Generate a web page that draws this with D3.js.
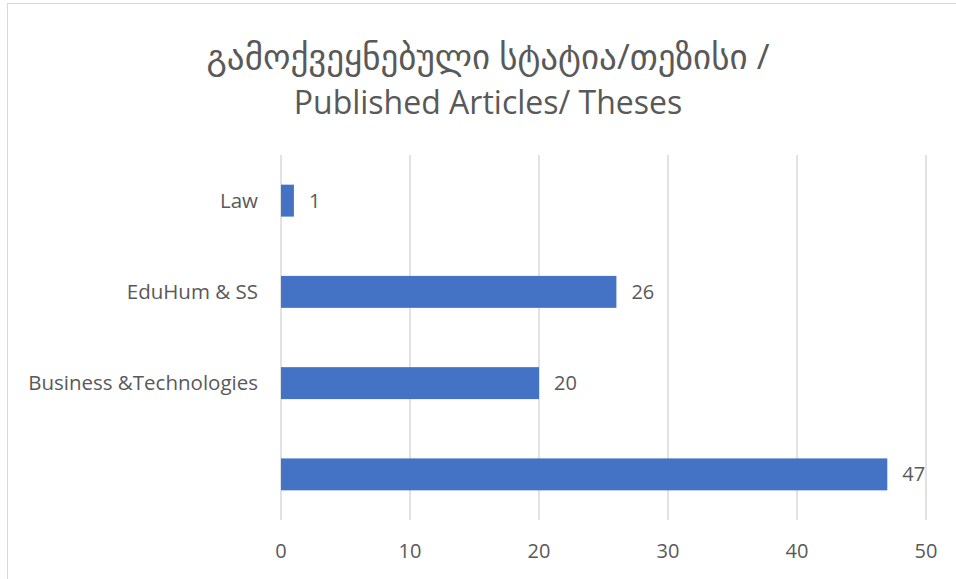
<!DOCTYPE html>
<html>
<head>
<meta charset="utf-8">
<script src="https://cdn.jsdelivr.net/npm/d3@7"></script>
<style>
  body { margin: 0; background: #fff; }
  text { font-family: "Open Sans", "DejaVu Sans", sans-serif; fill: #595959; }
</style>
</head>
<body>
<svg id="svg" width="956" height="579"></svg>
<script>
const categories = ['Law', 'EduHum & SS', 'Business &Technologies', '']
const values = [1, 26, 20, 47]
const ticks = [0, 10, 20, 30, 40, 50]
const titleLines = ['გამოქვეყნებული სტატია/თეზისი /', 'Published Articles/ Theses']

let svg = d3.select('#svg')

// chart area frame
svg.append('rect')
  .attr('x', 7.5).attr('y', 3.5)
  .attr('width', 970).attr('height', 600)
  .attr('fill', '#fff')
  .attr('stroke', '#d9d9d9')

let x = d3.scaleLinear().domain([0, 50]).range([281, 926])
let y = d3.scaleBand().domain(categories.map((c, i) => i)).range([155, 520]).paddingInner(0.65).paddingOuter(0.325)

// gridlines
svg.selectAll('line.grid')
  .data(ticks)
  .enter()
  .append('line')
  .attr('class', 'grid')
  .attr('x1', d => x(d)).attr('x2', d => x(d))
  .attr('y1', 155).attr('y2', 520)
  .attr('stroke', '#d9d9d9')
  .attr('stroke-width', 1.5)

// bars
svg.selectAll('rect.bar')
  .data(values)
  .enter()
  .append('rect')
  .attr('class', 'bar')
  .attr('x', x(0))
  .attr('y', (d, i) => y(i))
  .attr('width', d => x(d) - x(0))
  .attr('height', y.bandwidth())
  .attr('fill', '#4472c4')

// value labels
svg.selectAll('text.val')
  .data(values)
  .enter()
  .append('text')
  .attr('class', 'val')
  .attr('x', d => x(d) + 15)
  .attr('y', (d, i) => y(i) + y.bandwidth() / 2)
  .attr('dy', '0.35em')
  .style('font-size', '20px')
  .text(d => d)

// category labels
svg.selectAll('text.cat')
  .data(categories)
  .enter()
  .append('text')
  .attr('class', 'cat')
  .attr('x', 258)
  .attr('y', (d, i) => y(i) + y.bandwidth() / 2)
  .attr('dy', '0.35em')
  .attr('text-anchor', 'end')
  .style('font-size', '20.5px')
  .text(d => d)

// x axis labels
svg.selectAll('text.tick')
  .data(ticks)
  .enter()
  .append('text')
  .attr('class', 'tick')
  .attr('x', d => x(d))
  .attr('y', 551)
  .attr('dy', '0.35em')
  .attr('text-anchor', 'middle')
  .style('font-size', '20px')
  .text(d => d)

// title (georgian line is set larger, its glyphs are narrow in the original)
svg.selectAll('text.title')
  .data(titleLines)
  .enter()
  .append('text')
  .attr('class', 'title')
  .attr('x', 488)
  .attr('y', (d, i) => 57 + i * 46)
  .attr('dy', '0.35em')
  .attr('text-anchor', 'middle')
  .style('font-size', (d, i) => i === 0 ? '35px' : '32px')
  .text(d => d)
</script>
</body>
</html>
